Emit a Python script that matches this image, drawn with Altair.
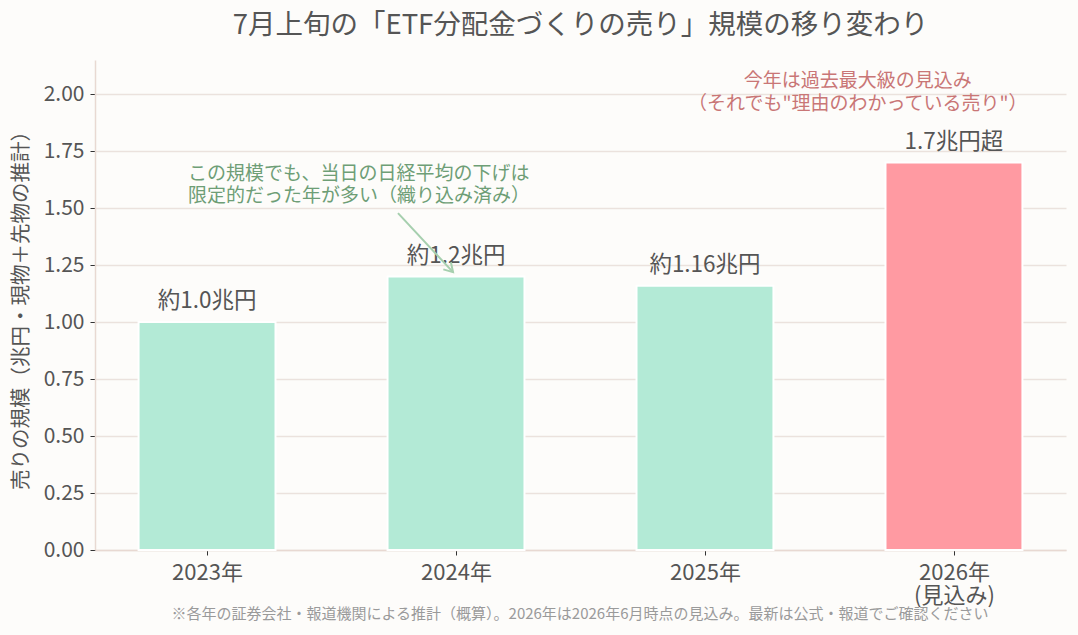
import json
import altair as alt
import pandas as pd

FONT = "Noto Sans CJK JP"

# ---- data ----
years = ["2023年", "2024年", "2025年", "2026年\n(見込み)"]
positions = [0, 1, 2, 3]
values = [1.0, 1.2, 1.16, 1.7]
value_labels = ["約1.0兆円", "約1.2兆円", "約1.16兆円", "1.7兆円超"]
kinds = ["実績", "実績", "実績", "見込み"]
kind_domain = ["実績", "見込み"]
bar_colors = ["#b3ead6", "#ff9aa2"]
y_ticks = [0.0, 0.25, 0.5, 0.75, 1.0, 1.25, 1.5, 1.75, 2.0]
bar_half = 0.275

title_text = "7月上旬の「ETF分配金づくりの売り」規模の移り変わり"
y_title = "売りの規模（兆円・現物＋先物の推計）"
footnote = "※各年の証券会社・報道機関による推計（概算）。2026年は2026年6月時点の見込み。最新は公式・報道でご確認ください"

green_note = ["この規模でも、当日の日経平均の下げは", "限定的だった年が多い（織り込み済み）"]
green_note_pos = [-0.076, 1.625]
red_note = ["今年は過去最大級の見込み", "（それでも\"理由のわかっている売り\"）"]
red_note_pos = [2.614, 2.030]
arrow_x = [0.767, 0.988]
arrow_y = [1.478, 1.219]

df = pd.DataFrame({
    "pos": positions,
    "x0": [p - bar_half for p in positions],
    "x1": [p + bar_half for p in positions],
    "value": values,
    "zero": [0.0] * len(values),
    "label": value_labels,
    "kind": kinds,
})

label_arr = [y.split("\n") if "\n" in y else y for y in years]
label_expr = json.dumps(label_arr, ensure_ascii=False) + "[datum.value]"

xscale = alt.Scale(domain=[-0.45, 3.45], nice=False, zero=False)
yscale = alt.Scale(domain=[0, 2.15], nice=False)

xaxis = alt.Axis(values=positions, labelExpr=label_expr, grid=False, title=None,
                 labelFontSize=22, labelColor="#555555", labelFont=FONT,
                 tickColor="#333333", tickSize=5, tickWidth=1,
                 domainColor="#e8d9d2", domainWidth=1.5, labelPadding=7,
                 labelLineHeight=23, labelBaseline="top")
yaxis = alt.Axis(values=y_ticks, format=".2f", title=y_title,
                 labelFontSize=21, labelColor="#555555", labelFont=FONT,
                 titleFont=FONT, titleFontSize=20.5, titleColor="#555555",
                 titleFontWeight="normal", titlePadding=12,
                 tickColor="#333333", tickSize=5, tickWidth=1, labelPadding=6,
                 domainColor="#e8d9d2", domainWidth=1.5,
                 gridColor="#ebe2dd", gridWidth=1.4)


def X(field):
    return alt.X(field, scale=xscale, axis=xaxis, title=None)


def Y(field):
    return alt.Y(field, scale=yscale, axis=yaxis, title=y_title)


base = alt.Chart(df)

bars = base.mark_bar(stroke="white", strokeWidth=2).encode(
    x=X("x0:Q"),
    x2="x1:Q",
    y=Y("value:Q"),
    y2="zero:Q",
    color=alt.Color("kind:N", scale=alt.Scale(domain=kind_domain, range=bar_colors), legend=None),
)

value_text = base.mark_text(font=FONT, fontSize=22.5, color="#555555",
                            baseline="alphabetic", dy=-14).encode(
    x=X("pos:Q"),
    y=Y("value:Q"),
    text="label:N",
)

notes_df = pd.DataFrame({
    "x": [green_note_pos[0], red_note_pos[0]],
    "y": [green_note_pos[1], red_note_pos[1]],
    "t": [green_note, red_note],
    "c": ["g", "r"],
})

green = alt.Chart(notes_df[notes_df.c == "g"]).mark_text(
    font=FONT, fontSize=19, color="#6e9e76", align="left",
    baseline="alphabetic", lineHeight=22.5).encode(
    x=X("x:Q"),
    y=Y("y:Q"),
    text="t",
)
red = alt.Chart(notes_df[notes_df.c == "r"]).mark_text(
    font=FONT, fontSize=19, color="#c97676", align="center",
    baseline="alphabetic", lineHeight=22.5).encode(
    x=X("x:Q"),
    y=Y("y:Q"),
    text="t",
)

arrow_df = pd.DataFrame({"x": arrow_x, "y": arrow_y, "o": [0, 1]})
arrow_line = alt.Chart(arrow_df).mark_line(color="#a6cfae", strokeWidth=2).encode(
    x=X("x:Q"),
    y=Y("y:Q"),
    order="o:Q",
)
arrow_head = alt.Chart(arrow_df[arrow_df.o == 1]).mark_point(
    shape="M -0.6 -1 L 0 0 L 0.6 -1", filled=False, size=300,
    stroke="#a6cfae", strokeWidth=2, angle=317, opacity=1).encode(
    x=X("x:Q"),
    y=Y("y:Q"),
)

foot = alt.Chart(pd.DataFrame({"t": [footnote]})).mark_text(
    font=FONT, fontSize=15, color="#9a9a9a", align="center", baseline="middle").encode(
    x=alt.value(485), y=alt.value(554), text="t:N")

chart = alt.layer(bars, value_text, green, red, arrow_line, arrow_head, foot).properties(
    width=971, height=490,
    autosize=alt.AutoSizeParams(type="none"),
    padding={"left": 95, "top": 60, "right": 12, "bottom": 85},
    background="#fdfcfa",
    title=alt.TitleParams(title_text, font=FONT, fontSize=27.5, color="#555555",
                          fontWeight="normal", anchor="middle", offset=21),
).configure_view(stroke=None)

chart.save("out.html", embed_options={"renderer": "svg", "actions": False})
